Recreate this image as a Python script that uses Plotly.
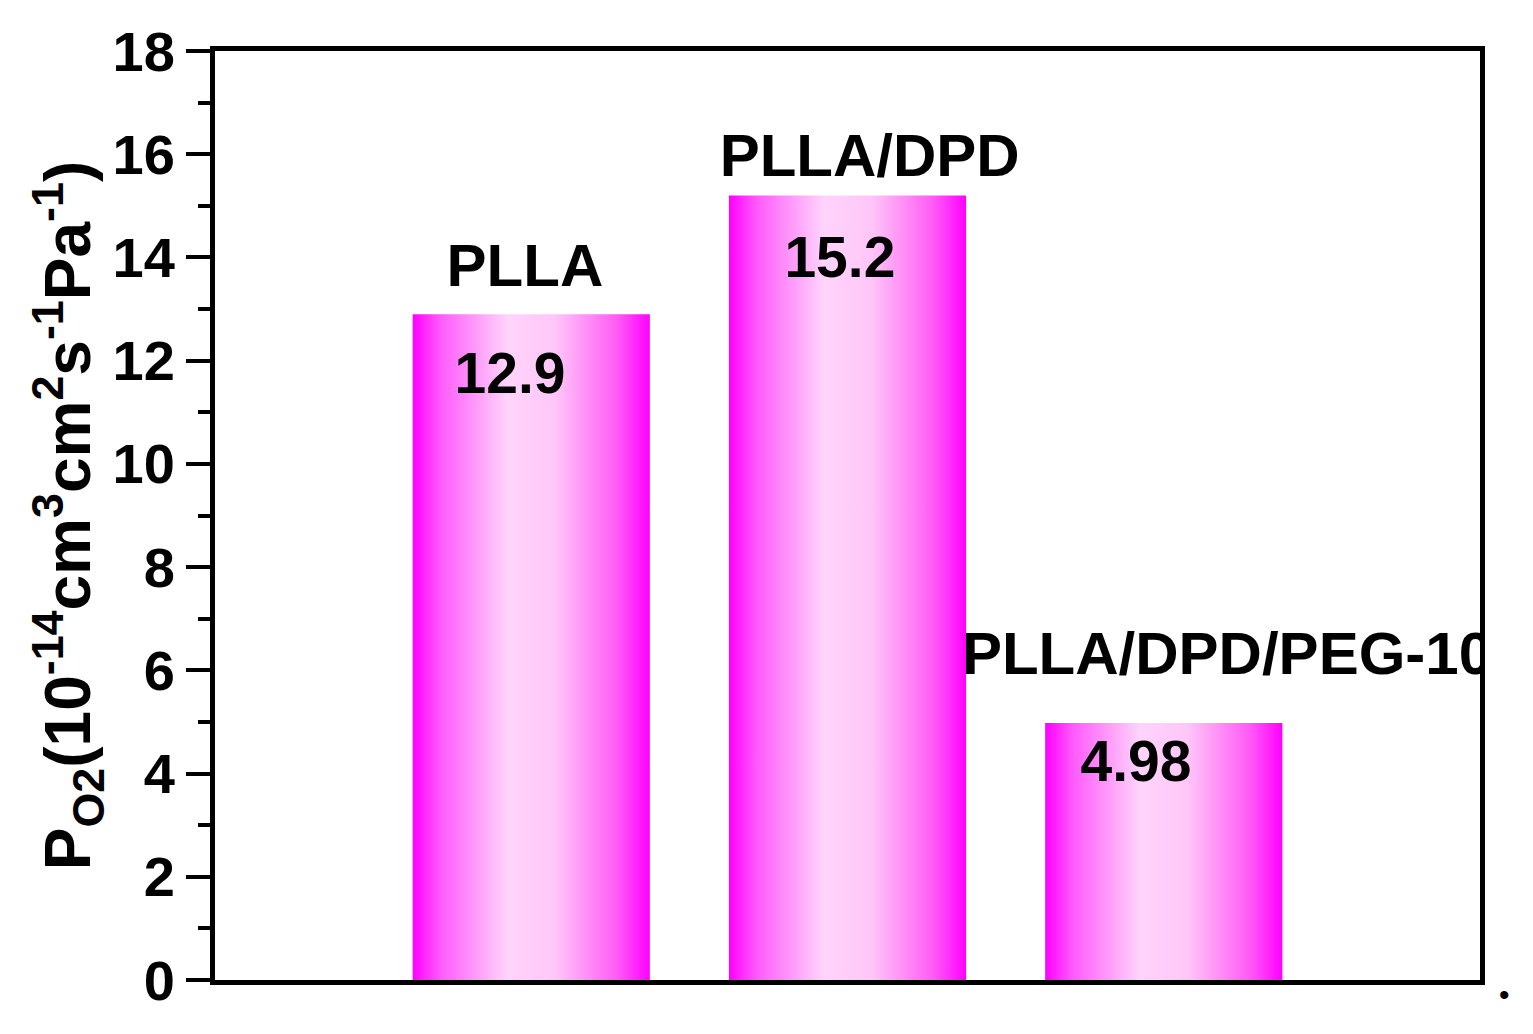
import plotly.graph_objects as go

# 数据
samples = ['PLLA', 'PLLA/DPD', 'PLLA/DPD/PEG-10']
positions = [1, 2, 3]
p_o2 = [12.9, 15.2, 4.98]
value_text = ['12.9', '15.2', '4.98']

# 标签相对柱子的偏移（布局用）
name_dx = [-0.02, 0.07, 0.2]
name_dy = [0.84, 0.66, 1.23]
val_dx = [-0.067, -0.024, -0.088]
val_dy = [-1.25, -1.31, -0.85]
bar_w = 0.75

font_family = 'Arial, Liberation Sans, sans-serif'
grad = [[0, '#ff00ff'], [0.12, '#ff5cfa'], [0.4, '#ffd4fb'],
        [0.6, '#ffc6f8'], [0.86, '#ff5cf5'], [1, '#ff00ff']]

fig = go.Figure()

# 渐变柱子
for pos, val in zip(positions, p_o2):
    x0, x1 = pos - bar_w / 2, pos + bar_w / 2
    fig.add_trace(go.Scatter(
        x=[x0, x0, x1, x1, x0], y=[0, val, val, 0, 0],
        fill='toself', mode='lines',
        line=dict(width=0, color='rgba(0,0,0,0)'),
        fillgradient=dict(type='horizontal', colorscale=grad),
        hoverinfo='skip', showlegend=False
    ))

# 样品名称
fig.add_trace(go.Scatter(
    x=[p + d for p, d in zip(positions, name_dx)],
    y=[v + d for v, d in zip(p_o2, name_dy)],
    text=samples, mode='text', textposition='middle center',
    textfont=dict(family=font_family, size=60, color='black', weight='bold'),
    cliponaxis=True, showlegend=False, hoverinfo='skip'
))

# 数值
fig.add_trace(go.Scatter(
    x=[p + d for p, d in zip(positions, val_dx)],
    y=[v + d for v, d in zip(p_o2, val_dy)],
    text=value_text, mode='text', textposition='middle center',
    textfont=dict(family=font_family, size=57, color='black', weight='bold'),
    cliponaxis=True, showlegend=False, hoverinfo='skip'
))

fig.add_annotation(x=1.025, y=-0.035, xref='paper', yref='paper', text='•',
                   showarrow=False, font=dict(family=font_family, size=30, color='black'))

fig.update_layout(
    width=1525, height=1026,
    margin=dict(l=207, r=53, t=39, b=54),
    paper_bgcolor='white', plot_bgcolor='white',
    font=dict(family=font_family, color='black'),
    xaxis=dict(
        range=[0, 4], showticklabels=False, ticks='',
        showgrid=False, zeroline=False,
        showline=True, linecolor='black', linewidth=5, mirror=True
    ),
    yaxis=dict(
        range=[0, 18], tickmode='array', tickvals=list(range(0, 19, 2)),
        ticks='outside', ticklen=24, tickwidth=4, tickcolor='black',
        minor=dict(tickvals=list(range(1, 18, 2)), ticks='outside',
                   ticklen=12, tickwidth=4, tickcolor='black'),
        tickfont=dict(family=font_family, size=56, weight='bold'),
        showgrid=False, zeroline=False,
        showline=True, linecolor='black', linewidth=5, mirror=True,
        title=dict(
            text='P<sub>O2</sub>(10<sup>-14</sup>cm<sup>3</sup>cm<sup>2</sup>s<sup>-1</sup>Pa<sup>-1</sup>)',
            font=dict(family=font_family, size=64, weight='bold'),
            standoff=2
        )
    )
)

fig.write_html('out.html')
